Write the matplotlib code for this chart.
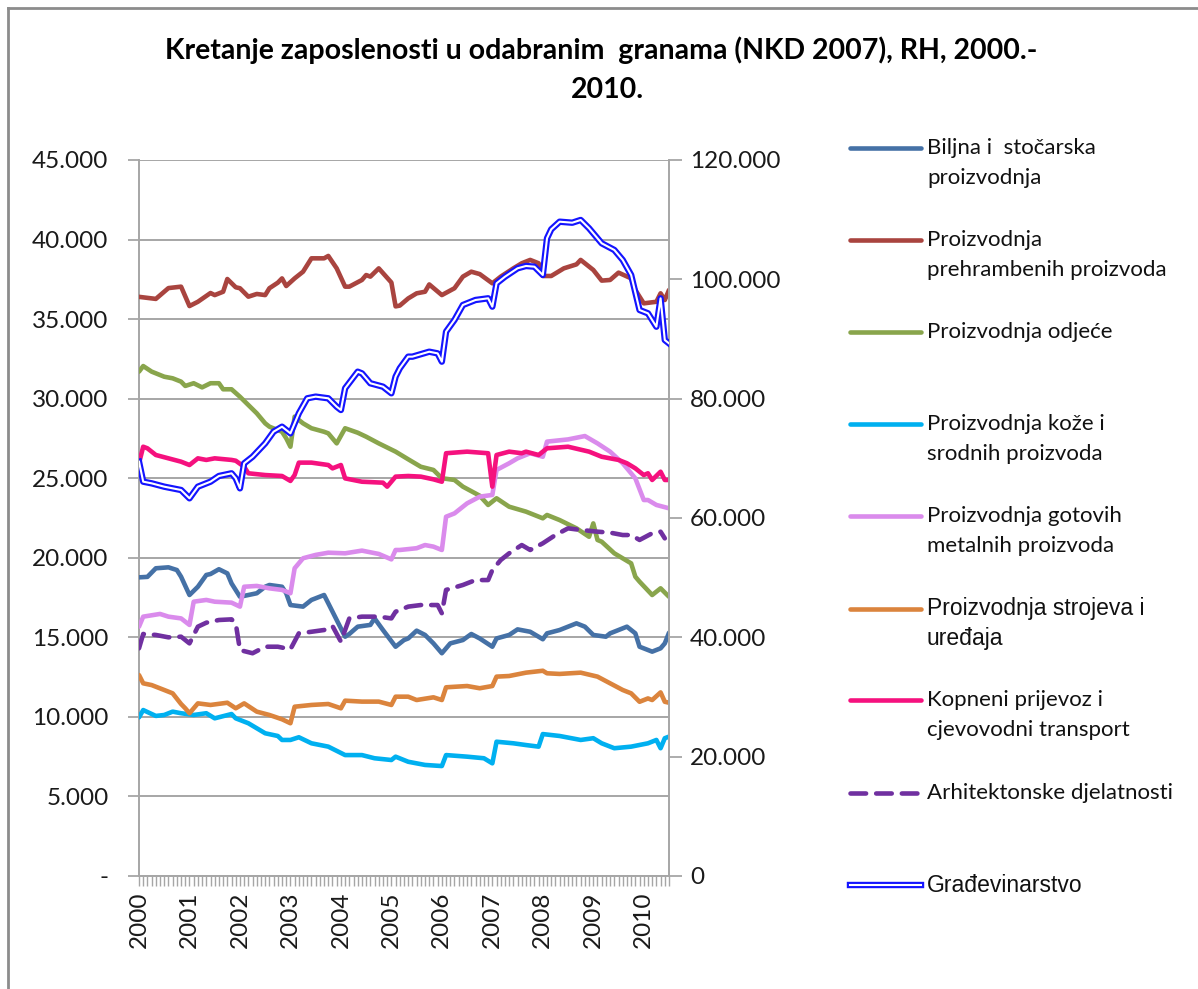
import matplotlib
matplotlib.use("Agg")
import matplotlib.pyplot as plt
from matplotlib.lines import Line2D

# ---------------- data (month index: 0 = Jan 2000) ----------------
year_labels = [str(y) for y in range(2000, 2011)]
n_months = 127

biljna = [(0,18770),(2,18800),(4,19340),(7,19400),(9,19230),(10,18810),(12,17660),(14,18180),(16,18920),(17,18980),
          (19,19280),(21,19020),(22,18390),(24,17550),(26,17660),(28,17770),(30,18180),(31,18290),(34,18180),(35,17770),
          (36,17030),(39,16930),(41,17350),(44,17660),(45,17140),(47,16090),(49,15040),(50,15210),(52,15670),(55,15780),
          (56,16190),(58,15460),(61,14410),(63,14830),(64,14930),(66,15420),(68,15150),(70,14620),(72,14000),(74,14620),
          (77,14830),(79,15210),(81,14930),(84,14410),(85,14930),(88,15150),(90,15500),(93,15350),(96,14880),(97,15250),
          (100,15460),(104,15880),(106,15670),(108,15150),(111,15040),(112,15250),(116,15670),(118,15250),(119,14410),
          (122,14100),(124,14310),(125,14620),(126,15290)]
prehrambeni = [(0,36400),(4,36270),(7,36950),(10,37040),(12,35820),(14,36090),(17,36640),(18,36510),(20,36720),(21,37520),
               (23,37000),(24,36940),(26,36410),(28,36580),(30,36510),(31,36940),(33,37290),(34,37560),(35,37080),(37,37560),
               (39,37980),(41,38820),(44,38820),(45,38970),(47,38190),(49,37040),(50,37040),(53,37460),(54,37770),(55,37670),
               (57,38190),(60,37300),(61,35800),(62,35850),(64,36300),(66,36620),(68,36720),(69,37180),(72,36510),(75,36940),
               (77,37670),(79,37980),(81,37830),(84,37250),(86,37670),(89,38190),(91,38510),(93,38720),(95,38510),(96,37710),
               (98,37710),(101,38190),(104,38440),(105,38720),(108,38090),(110,37420),(112,37460),(114,37920),(117,37560),
               (118,36830),(120,35990),(123,36090),(124,36620),(125,36200),(126,36830)]
odjeca = [(0,31700),(1,32050),(3,31700),(6,31380),(8,31280),(10,31070),(11,30800),(13,30970),(15,30710),(17,30970),
          (19,30970),(20,30590),(22,30590),(24,30120),(26,29600),(28,29080),(30,28450),(31,28240),(34,27920),(35,27510),
          (36,26980),(37,28870),(39,28450),(41,28140),(44,27920),(45,27820),(47,27190),(49,28140),(52,27860),(54,27610),
          (57,27190),(61,26670),(64,26190),(67,25720),(70,25520),(72,25000),(75,24890),(77,24470),(81,23900),(83,23320),
          (85,23740),(88,23210),(92,22900),(96,22480),(97,22690),(100,22370),(104,21850),(107,21320),(108,22160),
          (109,21120),(110,21010),(113,20280),(117,19650),(118,18810),(119,18500),(122,17660),(124,18080),(126,17550)]
koza = [(0,9970),(1,10430),(4,10060),(6,10120),(8,10330),(10,10230),(13,10120),(16,10230),(18,9910),(22,10180),
        (23,9910),(26,9600),(30,8970),(33,8800),(34,8550),(36,8550),(38,8720),(41,8340),(45,8130),(49,7600),
        (53,7600),(56,7400),(60,7290),(61,7500),(64,7180),(68,6980),(72,6910),(73,7600),(78,7500),(82,7400),
        (84,7080),(85,8440),(89,8340),(92,8230),(95,8130),(96,8920),(100,8800),(105,8550),(108,8660),(110,8340),
        (113,8030),(117,8130),(121,8340),(123,8550),(124,8030),(125,8660),(126,8760)]
metalni = [(0,15670),(1,16300),(5,16470),(7,16300),(10,16190),(12,15780),(13,17240),(16,17350),(18,17240),(22,17180),
           (24,16930),(25,18180),(28,18230),(31,18080),(34,17980),(36,17770),(37,19340),(39,19970),(42,20180),(45,20320),
           (49,20280),(53,20450),(57,20240),(60,19900),(61,20490),(62,20490),(66,20600),(68,20800),(70,20700),(72,20490),
           (73,22580),(75,22790),(78,23420),(81,23840),(84,23950),(85,25520),(88,25940),(90,26250),(93,26570),(96,26350),
           (97,27300),(102,27440),(106,27650),(109,27190),(112,26670),(115,25940),(118,24990),(120,23630),(121,23630),
           (123,23320),(126,23110)]
strojevi = [(0,12630),(1,12110),(3,12000),(6,11690),(8,11480),(10,10810),(11,10540),(12,10230),(14,10850),(17,10750),
            (21,10890),(23,10540),(25,10850),(28,10330),(31,10120),(34,9850),(36,9600),(37,10640),(41,10750),(45,10810),
            (48,10540),(49,11020),(53,10960),(57,10960),(60,10750),(61,11270),(64,11270),(66,11060),(70,11230),(72,11060),
            (73,11860),(78,11940),(81,11800),(84,11940),(85,12530),(88,12570),(92,12780),(96,12900),(97,12740),(100,12700),
            (105,12780),(109,12530),(112,12110),(115,11690),(117,11480),(119,10950),(121,11160),(122,11060),(124,11540),
            (125,10950),(126,10890)]
kopneni = [(0,25940),(1,26980),(2,26880),(4,26460),(7,26250),(10,26040),(12,25830),(14,26250),(16,26150),(18,26250),
           (22,26150),(23,26100),(25,25720),(26,25310),(30,25200),(34,25140),(36,24830),(37,25200),(38,25980),(41,25980),
           (45,25830),(46,25620),(48,25830),(49,24990),(53,24780),(58,24720),(59,24470),(61,25100),(64,25140),(67,25100),
           (70,24930),(72,24780),(73,26570),(78,26670),(83,26570),(84,24470),(85,26460),(88,26670),(91,26570),(92,26670),
           (95,26460),(96,26670),(97,26880),(102,26980),(107,26670),(110,26350),(114,26150),(116,25940),(118,25620),
           (120,25200),(121,25310),(122,24890),(124,25410),(125,24890),(126,24890)]
arhitektonske = [(0,14310),(1,15210),(4,15150),(7,15000),(10,15040),(12,14620),(14,15670),(16,15920),(19,16090),(22,16130),
                 (23,15880),(24,14200),(27,14000),(30,14410),(33,14410),(36,14250),(38,15250),(41,15350),(44,15460),(46,15710),
                 (48,14730),(50,16190),(53,16300),(57,16300),(60,16190),(61,16610),(64,16930),(67,17030),(71,17030),(72,16510),
                 (73,17980),(77,18290),(80,18600),(83,18600),(84,19230),(86,19860),(88,20280),(91,20800),(93,20490),(96,20910),
                 (99,21430),(102,21850),(105,21750),(109,21640),(112,21580),(115,21430),(117,21430),(119,21120),(122,21540),
                 (124,21640),(125,21220)]
gradevinarstvo = [(0,69440),(1,66090),(3,65810),(6,65250),(10,64690),(12,63300),(14,65250),(17,66090),(19,67040),(22,67490),
                  (23,66650),(24,64970),(25,69160),(27,70270),(30,72510),(32,74470),(34,75300),(36,74190),(38,77550),(40,80060),
                  (42,80340),(45,80060),(47,78650),(48,78100),(49,81740),(52,84520),(53,84240),(55,82580),(58,82010),(60,80900),
                  (61,83690),(62,85090),(64,87040),(65,87040),(69,87870),(71,87590),(72,86200),(73,91230),(75,93190),(77,95700),
                  (80,96540),(83,96820),(84,95420),(85,99330),(87,100440),(90,101850),(92,102240),(94,102120),(96,100730),
                  (97,106880),(98,108380),(100,109660),(103,109490),(105,109950),(107,108550),(110,106040),(113,104920),
                  (115,103240),(117,100730),(119,94860),(121,94300),(123,92060),(124,96820),(125,89830),(126,89270)]

series_labels = ["Biljna i  stočarska\nproizvodnja", "Proizvodnja\nprehrambenih proizvoda", "Proizvodnja odjeće",
                 "Proizvodnja kože i\nsrodnih proizvoda", "Proizvodnja gotovih\nmetalnih proizvoda",
                 "Proizvodnja strojeva i\nuređaja", "Kopneni prijevoz i\ncjevovodni transport",
                 "Arhitektonske djelatnosti", "Građevinarstvo"]
left_ticks = [0, 5000, 10000, 15000, 20000, 25000, 30000, 35000, 40000, 45000]
left_tick_labels = ["-", "5.000", "10.000", "15.000", "20.000", "25.000", "30.000", "35.000", "40.000", "45.000"]
right_ticks = [0, 20000, 40000, 60000, 80000, 100000, 120000]
right_tick_labels = ["0", "20.000", "40.000", "60.000", "80.000", "100.000", "120.000"]
title_lines = ["Kretanje zaposlenosti u odabranim  granama (NKD 2007), RH, 2000.-", "2010."]

# ---------------- styling ----------------
W, H = 1198, 989
FONT = ["Lato", "DejaVu Sans"]
FONT_ARIAL = ["Liberation Sans", "DejaVu Sans"]
colors = ["#4571A6", "#A9443F", "#89A54C", "#00B0F0", "#DA8BEC", "#DB843D", "#F5117E", "#7030A0", "#1414FF"]
LW = 3.3

fig = plt.figure(figsize=(W / 100, H / 100), dpi=100)
fig.patch.set_facecolor("white")

def fx(px):
    return px / W

def fy(py):
    return 1 - py / H

ax = fig.add_axes([fx(139), fy(876), fx(669) - fx(139), fy(160) - fy(876)])
ax2 = ax.twinx()

left_series = [biljna, prehrambeni, odjeca, koza, metalni, strojevi, kopneni, arhitektonske]
for i, s in enumerate(left_series):
    xs = [p[0] for p in s]
    ys = [p[1] for p in s]
    if i == 7:
        ax.plot(xs, ys, color=colors[i], lw=LW, dashes=(3.4, 2.2), dash_capstyle="round",
                solid_joinstyle="round", zorder=3)
    else:
        ax.plot(xs, ys, color=colors[i], lw=LW, solid_capstyle="round", solid_joinstyle="round", zorder=3)

gx = [p[0] for p in gradevinarstvo]
gy = [p[1] for p in gradevinarstvo]
ax2.plot(gx, gy, color=colors[8], lw=4.6, solid_joinstyle="round", zorder=3)
ax2.plot(gx, gy, color="white", lw=1.5, solid_joinstyle="round", zorder=4)

ax.set_xlim(0, n_months - 1)
ax.set_ylim(0, 45000)
ax2.set_ylim(0, 120000)

grid_c = "#A6A6A6"
ax.set_yticks(left_ticks)
ax.set_yticklabels(left_tick_labels, fontfamily=FONT, fontsize=17.5, color="#1a1a1a")
ax.yaxis.grid(True, color=grid_c, lw=1.4)
ax.set_axisbelow(True)
ax.tick_params(axis="y", direction="out", length=8, width=1.3, color=grid_c, pad=14)

xt = list(range(n_months))
xl = [year_labels[m // 12] if m % 12 == 0 else "" for m in xt]
ax.set_xticks(xt)
ax.set_xticklabels(xl, rotation=90, fontfamily=FONT, fontsize=17.5, color="#1a1a1a")
ax.tick_params(axis="x", direction="out", length=7, width=1.0, color=grid_c, pad=4)

ax2.set_yticks(right_ticks)
ax2.set_yticklabels(right_tick_labels, fontfamily=FONT, fontsize=17.5, color="#1a1a1a")
ax2.tick_params(axis="y", direction="out", length=9, width=1.3, color=grid_c, pad=6)

for a in (ax, ax2):
    a.spines["top"].set_visible(False)
ax.spines["right"].set_visible(False)
ax2.spines["left"].set_visible(False)
ax2.spines["bottom"].set_visible(False)
ax.spines["left"].set_color(grid_c)
ax.spines["left"].set_linewidth(1.4)
ax.spines["bottom"].set_color(grid_c)
ax.spines["bottom"].set_linewidth(1.4)
ax2.spines["right"].set_color(grid_c)
ax2.spines["right"].set_linewidth(1.4)

# title
fig.text(fx(601), fy(50), title_lines[0], ha="center", va="center", fontsize=20.5, fontweight="bold",
         fontfamily=FONT)
fig.text(fx(607), fy(90), title_lines[1], ha="center", va="center", fontsize=20.5, fontweight="bold",
         fontfamily=FONT)

# chart border (left and top visible)
fig.add_artist(Line2D([fx(8), fx(8)], [0, fy(8)], color="#8C8C8C", lw=2))
fig.add_artist(Line2D([fx(8), 1], [fy(8), fy(8)], color="#8C8C8C", lw=2))

# legend drawn manually
leg_y = [148, 240, 332, 424, 516, 609, 700, 793, 885]
line_gap = 29.5
for i, lab in enumerate(series_labels):
    y0 = leg_y[i]
    xs = [fx(850), fx(921)]
    ys = [fy(y0), fy(y0)]
    if i == 8:
        fig.add_artist(Line2D(xs, ys, color=colors[8], lw=4.6))
        fig.add_artist(Line2D(xs, ys, color="white", lw=1.5))
    elif i == 7:
        fig.add_artist(Line2D(xs, ys, color=colors[i], lw=LW, dashes=(3.4, 2.2), dash_capstyle="round"))
    else:
        fig.add_artist(Line2D(xs, ys, color=colors[i], lw=LW, solid_capstyle="round"))
    fam = FONT_ARIAL if i in (5, 8) else FONT
    fs = 16.5 if i in (5, 8) else 16
    for j, line in enumerate(lab.split("\n")):
        fig.text(fx(927), fy(y0 + j * line_gap), line, ha="left", va="center", fontsize=fs,
                 fontfamily=fam, color="#111111")

fig.savefig("out.png", dpi=100, facecolor="white")
